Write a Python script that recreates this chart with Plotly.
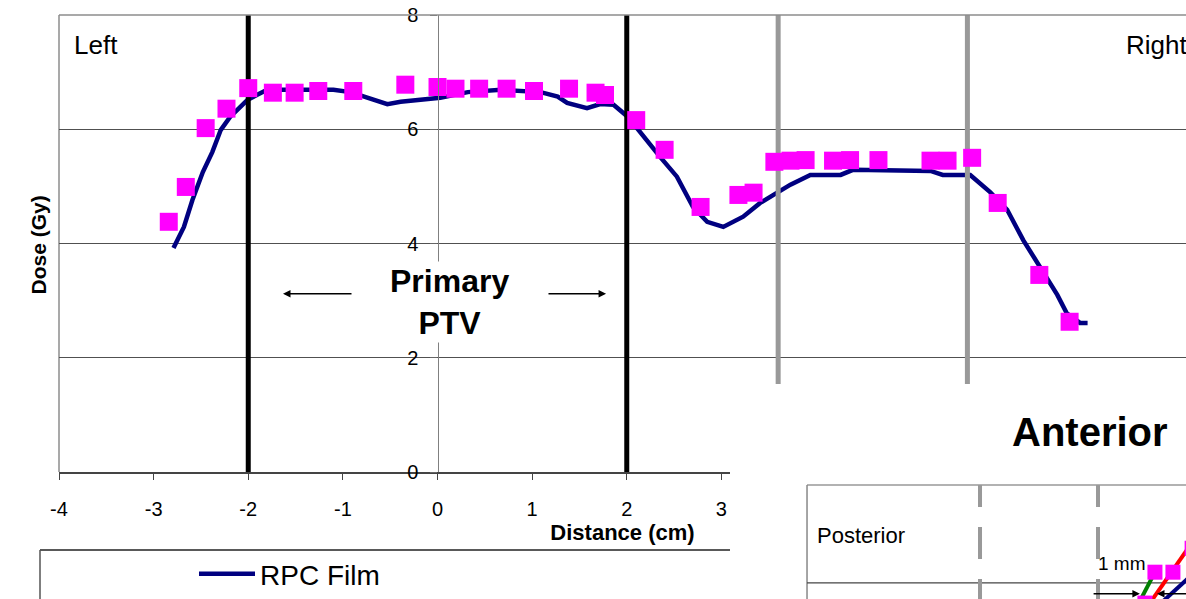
import plotly.graph_objects as go

W, H = 1186, 599

# ---------------- main chart data ----------------
film_x = [-2.79, -2.68, -2.59, -2.48, -2.38, -2.29, -2.19, -2.01, -1.91, -1.80, -1.55, -1.10,
          -0.92, -0.74, -0.53, -0.39, -0.25, 0.03, 0.32, 0.67, 1.09, 1.27, 1.37, 1.58, 1.72,
          1.86, 2.01, 2.14, 2.35, 2.53, 2.70, 2.85, 3.02, 3.23, 3.41, 3.59, 3.73, 3.94, 4.26,
          4.39, 4.96, 5.21, 5.34, 5.63, 5.84, 6.02, 6.19, 6.34, 6.55, 6.65, 6.79, 6.87]
film_y = [3.92, 4.29, 4.76, 5.25, 5.60, 5.99, 6.22, 6.51, 6.60, 6.69, 6.69, 6.69,
          6.65, 6.55, 6.44, 6.48, 6.51, 6.55, 6.65, 6.69, 6.65, 6.57, 6.46, 6.37, 6.44,
          6.43, 6.22, 5.94, 5.52, 5.17, 4.64, 4.38, 4.29, 4.47, 4.71, 4.89, 5.03, 5.20, 5.20,
          5.29, 5.27, 5.27, 5.20, 5.20, 4.90, 4.59, 4.06, 3.66, 3.10, 2.78, 2.61, 2.61]

tld_x = [-2.84, -2.66, -2.45, -2.23, -2.00, -1.74, -1.51, -1.26, -0.89, -0.34, 0.00, 0.19,
         0.44, 0.73, 1.02, 1.39, 1.67, 1.77, 2.10, 2.40, 2.78, 3.18, 3.34, 3.56, 3.73, 3.89,
         4.18, 4.36, 4.66, 5.21, 5.39, 5.65, 5.92, 6.36, 6.68]
tld_y = [4.38, 4.99, 6.02, 6.36, 6.72, 6.64, 6.64, 6.67, 6.67, 6.78, 6.74, 6.71,
         6.71, 6.71, 6.67, 6.71, 6.64, 6.60, 6.16, 5.64, 4.64, 4.85, 4.89, 5.43, 5.45, 5.46,
         5.45, 5.46, 5.46, 5.45, 5.45, 5.50, 4.71, 3.45, 2.63]

x_ticks = [-4, -3, -2, -1, 0, 1, 2, 3, 4, 5, 6, 7]
x_tick_labels = [str(v) for v in x_ticks]
y_ticks = [0, 2, 4, 6, 8]
y_tick_labels = [str(v) for v in y_ticks]
primary_ptv = [-2, 2]
secondary_ptv = [3.6, 5.6]
dose_span = [0, 8]

# ---------------- overlapping "Anterior" chart fragment ----------------
ant_ptv = [-2, 2]
ant_box_left = -7.864
ant_box_top = 8
ant_grid = 6
ant_right = 5.2
ant_bottom = 5.673
ant_tld_x = [3.59, 3.93, 4.54, 5.19]
ant_tld_y = [5.59, 6.22, 6.22, 6.71]
ant_green_x = [3.35, 3.93]
ant_green_y = [5.55, 6.22]
ant_red_x = [3.69, 5.10]
ant_red_y = [5.53, 6.75]
ant_navy_x = [4.03, 5.10]
ant_navy_y = [5.53, 6.12]

FONT = "Liberation Sans, Arial, sans-serif"
NAVY = "#000080"
MAGENTA = "#FF00FF"

fig = go.Figure()

# main chart
fig.add_trace(go.Scatter(x=film_x, y=film_y, mode="lines", name="RPC Film",
                         line=dict(color=NAVY, width=4.5), xaxis="x", yaxis="y"))
for xv in primary_ptv:
    fig.add_trace(go.Scatter(x=[xv, xv], y=dose_span, mode="lines", showlegend=False,
                             line=dict(color="black", width=5), hoverinfo="skip"))
for xv in secondary_ptv:
    fig.add_trace(go.Scatter(x=[xv, xv], y=dose_span, mode="lines", showlegend=False,
                             line=dict(color="#999999", width=5), hoverinfo="skip"))
fig.add_trace(go.Scatter(x=tld_x, y=tld_y, mode="markers", showlegend=False,
                         marker=dict(symbol="square", size=18, color=MAGENTA)))

# fragment chart (subplot 2)
fig.add_trace(go.Scatter(x=ant_green_x, y=ant_green_y, mode="lines", showlegend=False,
                         line=dict(color="#008000", width=4), xaxis="x2", yaxis="y2"))
fig.add_trace(go.Scatter(x=ant_red_x, y=ant_red_y, mode="lines", showlegend=False,
                         line=dict(color="#FF0000", width=4), xaxis="x2", yaxis="y2"))
fig.add_trace(go.Scatter(x=ant_navy_x, y=ant_navy_y, mode="lines", showlegend=False,
                         line=dict(color=NAVY, width=4), xaxis="x2", yaxis="y2"))
fig.add_trace(go.Scatter(x=ant_tld_x, y=ant_tld_y, mode="markers", showlegend=False,
                         marker=dict(symbol="square", size=15, color=MAGENTA),
                         xaxis="x2", yaxis="y2"))

shapes = []
# main plot frame (top & left)
shapes.append(dict(type="line", xref="paper", yref="paper", x0=59 / W, x1=1,
                   y0=1 - 15 / H, y1=1 - 15 / H, line=dict(color="#8c8c8c", width=1.5), layer="above"))
shapes.append(dict(type="line", xref="paper", yref="paper", x0=59 / W, x1=59 / W,
                   y0=1 - 15 / H, y1=1 - 472 / H, line=dict(color="#8c8c8c", width=1.5), layer="below"))
# legend box
shapes.append(dict(type="line", xref="paper", yref="paper", x0=40 / W, x1=730 / W,
                   y0=1 - 550 / H, y1=1 - 550 / H, line=dict(color="#222222", width=1.5), layer="above"))
shapes.append(dict(type="line", xref="paper", yref="paper", x0=40 / W, x1=40 / W,
                   y0=1 - 550 / H, y1=0, line=dict(color="#555555", width=1.5), layer="above"))
# fragment chart frame, grid and dashed PTV lines
shapes.append(dict(type="line", xref="x2", yref="y2", x0=ant_box_left, x1=ant_right,
                   y0=ant_box_top, y1=ant_box_top, line=dict(color="#999999", width=1.5), layer="below"))
shapes.append(dict(type="line", xref="x2", yref="y2", x0=ant_box_left, x1=ant_box_left,
                   y0=ant_box_top, y1=ant_bottom, line=dict(color="#888888", width=1.5), layer="below"))
shapes.append(dict(type="line", xref="x2", yref="y2", x0=ant_box_left, x1=ant_right,
                   y0=ant_grid, y1=ant_grid, line=dict(color="#444444", width=1.2), layer="below"))
for xv in ant_ptv:
    shapes.append(dict(type="line", xref="x2", yref="y2", x0=xv, x1=xv,
                       y0=ant_box_top, y1=ant_bottom,
                       line=dict(color="#999999", width=4, dash="22px,20px,32px,20px,32px"),
                       layer="below"))

annotations = [
    dict(text="Left", xref="paper", yref="paper", x=72 / W, y=1 - 45 / H, xanchor="left",
         yanchor="middle", showarrow=False, font=dict(size=26)),
    dict(text="Right", xref="paper", yref="paper", x=1124 / W, y=1 - 45 / H, xanchor="left",
         yanchor="middle", showarrow=False, font=dict(size=26)),
    dict(text="<b>Dose (Gy)</b>", xref="paper", yref="paper", x=25 / W, y=1 - 245 / H,
         textangle=-90, showarrow=False, font=dict(size=21)),
    dict(text="<b>Primary<br>PTV</b>", xref="x", yref="y", x=0.13, y=2.98, showarrow=False,
         font=dict(size=32), bgcolor="white"),
    dict(text="", xref="x", yref="y", axref="x", ayref="y", x=-1.633, y=3.12, ax=-0.893, ay=3.12,
         showarrow=True, arrowhead=2, arrowsize=1, arrowwidth=1.5, arrowcolor="black"),
    dict(text="", xref="x", yref="y", axref="x", ayref="y", x=1.781, y=3.12, ax=1.157, ay=3.12,
         showarrow=True, arrowhead=2, arrowsize=1, arrowwidth=1.5, arrowcolor="black"),
    dict(text="<b>Anterior</b>", xref="paper", yref="paper", x=1010 / W, y=1 - 432 / H,
         xanchor="left", yanchor="middle", showarrow=False, font=dict(size=40)),
    dict(text="Posterior", xref="paper", yref="paper", x=815 / W, y=1 - 535 / H,
         xanchor="left", yanchor="middle", showarrow=False, font=dict(size=22)),
    dict(text="1 mm", xref="paper", yref="paper", x=1096 / W, y=1 - 563 / H,
         xanchor="left", yanchor="middle", showarrow=False, font=dict(size=19)),
    dict(text="", xref="x2", yref="y2", axref="x2", ayref="y2", x=3.42, y=5.78, ax=1.80, ay=5.78,
         showarrow=True, arrowhead=2, arrowsize=1, arrowwidth=1.5, arrowcolor="black"),
    dict(text="", xref="x2", yref="y2", axref="x2", ayref="y2", x=4.0, y=5.78, ax=5.2, ay=5.78,
         showarrow=True, arrowhead=2, arrowsize=1, arrowwidth=1.5, arrowcolor="black"),
]

fig.update_layout(
    width=W, height=H,
    margin=dict(l=0, r=0, t=0, b=0, pad=0, autoexpand=False),
    paper_bgcolor="white", plot_bgcolor="white",
    font=dict(family=FONT, color="black", size=20),
    showlegend=True,
    legend=dict(x=194 / W, y=1 - 549 / H, xanchor="left", yanchor="top",
                bgcolor="rgba(0,0,0,0)", borderwidth=0, font=dict(size=28), itemwidth=56),
    xaxis=dict(domain=[59 / W, 1], range=[-4, 7.91], tickvals=x_ticks, ticktext=x_tick_labels,
               ticks="outside", automargin=False,
               ticklen=6, tickcolor="#444", showline=True, linecolor="#444", linewidth=1.5,
               showgrid=False, zeroline=False, anchor="y", ticklabelstandoff=12,
               tickfont=dict(size=20),
               title=dict(text="<b>Distance (cm)</b>", font=dict(size=22), standoff=0)),
    yaxis=dict(domain=[(H - 472) / H, (H - 15) / H], range=[0, 8], tickvals=y_ticks,
               ticktext=y_tick_labels, automargin=False,
               anchor="free", position=437.5 / W, ticks="outside", ticklen=7, tickcolor="#666",
               showline=True, linecolor="#808080", linewidth=1.2, showgrid=True,
               gridcolor="#505050", gridwidth=1, zeroline=False, tickfont=dict(size=20),
               ticklabelstandoff=8),
    xaxis2=dict(domain=[730 / W, 1], anchor="y2", range=[-10.475, 4.983], visible=False,
                automargin=False),
    yaxis2=dict(domain=[0, 215 / H], anchor="x2", range=[5.673, 10.06], visible=False,
                automargin=False),
    shapes=shapes,
    annotations=annotations,
)

fig.write_html("out.html", config={"displayModeBar": False},
               post_script="document.body.style.margin='0';")
